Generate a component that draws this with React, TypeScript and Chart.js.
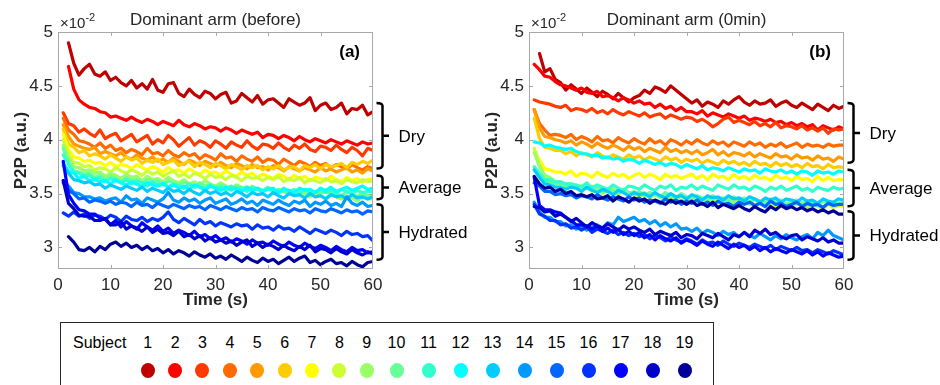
import React, { useEffect, useRef } from 'react';
import { Chart, registerables } from 'chart.js';

Chart.register(...registerables);

const FONT = '"Liberation Sans", Arial, Helvetica, sans-serif';
const TEXT_COLOR = '#262626';
const AXIS_COLOR = '#a8a8a8';

const TIME = [
  1, 2, 3, 4, 5, 6, 7, 8, 9, 10, 11, 12, 13, 14, 15, 16, 17, 18, 19, 20,
  21, 22, 23, 24, 25, 26, 27, 28, 29, 30, 31, 32, 33, 34, 35, 36, 37, 38, 39, 40,
  41, 42, 43, 44, 45, 46, 47, 48, 49, 50, 51, 52, 53, 54, 55, 56, 57, 58, 59, 60,
];

const SUBJECTS = ['1', '2', '3', '4', '5', '6', '7', '8', '9', '10', '11', '12', '13', '14', '15', '16', '17', '18', '19'];
const SUBJECT_COLORS = [
  '#c00000', '#ff0000', '#ff3a00', '#ff6b00', '#ff9b00', '#ffcc00', '#ffff00', '#ccff33', '#99ff66', '#66ff99',
  '#33ffcc', '#00ffff', '#00ccff', '#0099ff', '#0066ff', '#0033ff', '#0000ff', '#0000cc', '#000099',
];

const GROUP_LABELS = ['Dry', 'Average', 'Hydrated'];
const A_GROUP_TOP = [4.34, 3.668, 3.401];
const A_GROUP_BOTTOM = [3.732, 3.447, 2.885];
const B_GROUP_TOP = [4.34, 3.722, 3.336];
const B_GROUP_BOTTOM = [3.787, 3.382, 2.885];

// ---------- Panel (a): Dominant arm (before), values in units of 1e-2 ----------
const A_S1 = [
  null, 4.90, 4.71, 4.60, 4.66, 4.70, 4.61, 4.59, 4.63, 4.55,
  4.58, 4.53, 4.50, 4.55, 4.48, 4.52, 4.47, 4.56, 4.46, 4.44,
  4.52, 4.53, 4.43, 4.40, 4.47, 4.42, 4.39, 4.45, 4.43, 4.38,
  4.42, 4.44, 4.34, 4.36, 4.43, 4.39, 4.35, 4.41, 4.33, 4.37,
  4.38, 4.34, 4.30, 4.38, 4.35, 4.32, 4.34, 4.39, 4.27, 4.32,
  4.34, 4.28, 4.30, 4.34, 4.24, 4.29, 4.28, 4.32, 4.23, 4.26,
];
const A_S2 = [
  null, 4.68, 4.47, 4.37, 4.33, 4.30, 4.29, 4.26, 4.25, 4.21,
  4.22, 4.20, 4.18, 4.21, 4.18, 4.16, 4.19, 4.17, 4.14, 4.17,
  4.15, 4.13, 4.18, 4.14, 4.12, 4.15, 4.13, 4.10, 4.12, 4.11,
  4.08, 4.11, 4.09, 4.06, 4.09, 4.07, 4.05, 4.07, 4.02, 4.05,
  4.04, 4.01, 4.04, 4.02, 3.99, 4.03, 4.00, 3.98, 4.01, 3.99,
  3.97, 4.00, 3.98, 3.96, 3.99, 3.97, 3.95, 3.98, 3.96, 3.97,
];
const A_S3 = [
  4.25, 4.15, 4.13, 4.07, 4.10, 4.06, 4.03, 4.09, 4.01, 4.04,
  4.06, 3.99, 4.02, 4.05, 3.98, 4.01, 4.04, 3.96, 4.00, 3.97,
  4.04, 4.00, 3.94, 3.98, 4.02, 3.95, 3.99, 3.97, 3.93, 3.99,
  3.96, 3.92, 3.98, 3.95, 3.93, 3.99, 3.94, 3.91, 3.96, 3.95,
  3.92, 3.97, 3.93, 3.90, 3.95, 3.92, 3.96, 3.91, 3.89, 3.94,
  3.93, 3.90, 3.95, 3.91, 3.88, 3.93, 3.90, 3.85, 3.92, 3.90,
];
const A_S4 = [
  4.20, 4.09, 4.05, 3.99, 3.98, 3.96, 3.93, 3.97, 3.92, 3.95,
  3.90, 3.92, 3.88, 3.91, 3.89, 3.86, 3.92, 3.87, 3.88, 3.85,
  3.90, 3.86, 3.84, 3.88, 3.85, 3.87, 3.82, 3.86, 3.84, 3.81,
  3.87, 3.83, 3.84, 3.80, 3.85, 3.82, 3.80, 3.84, 3.79, 3.82,
  3.81, 3.77, 3.82, 3.79, 3.76, 3.80, 3.78, 3.75, 3.79, 3.76,
  3.78, 3.74, 3.77, 3.75, 3.73, 3.77, 3.74, 3.72, 3.75, 3.73,
];
const A_S5 = [
  4.14, 4.03, 3.96, 3.94, 3.92, 3.91, 3.93, 3.87, 3.89, 3.87,
  3.85, 3.88, 3.84, 3.82, 3.86, 3.83, 3.81, 3.84, 3.80, 3.82,
  3.79, 3.83, 3.80, 3.77, 3.81, 3.79, 3.76, 3.80, 3.78, 3.75,
  3.79, 3.76, 3.74, 3.78, 3.76, 3.73, 3.77, 3.74, 3.75, 3.72,
  3.76, 3.74, 3.71, 3.75, 3.73, 3.71, 3.74, 3.72, 3.70, 3.74,
  3.71, 3.73, 3.70, 3.72, 3.74, 3.70, 3.72, 3.69, 3.73, 3.71,
];
const A_S6 = [
  4.10, 3.96, 3.93, 3.88, 3.90, 3.85, 3.87, 3.85, 3.82, 3.86,
  3.83, 3.80, 3.84, 3.81, 3.83, 3.78, 3.81, 3.79, 3.82, 3.77,
  3.79, 3.81, 3.76, 3.78, 3.80, 3.75, 3.79, 3.77, 3.74, 3.78,
  3.76, 3.73, 3.77, 3.75, 3.72, 3.76, 3.74, 3.76, 3.72, 3.75,
  3.73, 3.76, 3.72, 3.74, 3.75, 3.71, 3.76, 3.74, 3.77, 3.73,
  3.77, 3.75, 3.76, 3.78, 3.74, 3.79, 3.77, 3.80, 3.78, 3.81,
];
const A_S7 = [
  4.05, 3.91, 3.84, 3.83, 3.80, 3.81, 3.78, 3.79, 3.76, 3.79,
  3.75, 3.77, 3.76, 3.73, 3.77, 3.74, 3.72, 3.75, 3.73, 3.70,
  3.74, 3.71, 3.72, 3.69, 3.73, 3.70, 3.68, 3.72, 3.69, 3.70,
  3.67, 3.71, 3.68, 3.66, 3.70, 3.67, 3.69, 3.65, 3.68, 3.66,
  3.64, 3.68, 3.66, 3.63, 3.67, 3.64, 3.66, 3.62, 3.65, 3.64,
  3.62, 3.66, 3.63, 3.61, 3.65, 3.62, 3.64, 3.61, 3.63, 3.64,
];
const A_S8 = [
  4.00, 3.86, 3.79, 3.78, 3.75, 3.76, 3.72, 3.74, 3.73, 3.70,
  3.74, 3.71, 3.69, 3.72, 3.70, 3.67, 3.71, 3.68, 3.70, 3.66,
  3.69, 3.71, 3.66, 3.68, 3.65, 3.69, 3.67, 3.64, 3.68, 3.65,
  3.66, 3.63, 3.67, 3.65, 3.62, 3.66, 3.64, 3.65, 3.62, 3.65,
  3.63, 3.66, 3.61, 3.64, 3.62, 3.65, 3.60, 3.63, 3.62, 3.60,
  3.64, 3.61, 3.62, 3.59, 3.63, 3.61, 3.60, 3.63, 3.61, 3.62,
];
const A_S9 = [
  3.95, 3.83, 3.75, 3.74, 3.71, 3.72, 3.69, 3.70, 3.66, 3.69,
  3.67, 3.64, 3.68, 3.65, 3.66, 3.62, 3.66, 3.63, 3.64, 3.61,
  3.65, 3.62, 3.60, 3.63, 3.59, 3.61, 3.58, 3.62, 3.59, 3.57,
  3.60, 3.57, 3.55, 3.58, 3.56, 3.53, 3.57, 3.54, 3.52, 3.55,
  3.53, 3.50, 3.54, 3.51, 3.49, 3.52, 3.50, 3.47, 3.51, 3.48,
  3.46, 3.50, 3.47, 3.45, 3.48, 3.46, 3.43, 3.47, 3.45, 3.45,
];
const A_S10 = [
  3.92, 3.79, 3.71, 3.70, 3.68, 3.69, 3.65, 3.67, 3.63, 3.66,
  3.64, 3.61, 3.65, 3.62, 3.63, 3.59, 3.63, 3.61, 3.62, 3.58,
  3.62, 3.60, 3.57, 3.61, 3.58, 3.56, 3.60, 3.57, 3.58, 3.55,
  3.58, 3.56, 3.53, 3.57, 3.55, 3.56, 3.52, 3.55, 3.53, 3.56,
  3.51, 3.54, 3.52, 3.50, 3.54, 3.51, 3.53, 3.49, 3.52, 3.50,
  3.53, 3.49, 3.51, 3.48, 3.52, 3.50, 3.47, 3.51, 3.48, 3.49,
];
const A_S11 = [
  3.86, 3.77, 3.70, 3.69, 3.66, 3.67, 3.63, 3.65, 3.61, 3.64,
  3.62, 3.60, 3.63, 3.59, 3.62, 3.60, 3.57, 3.61, 3.58, 3.60,
  3.56, 3.59, 3.57, 3.55, 3.59, 3.56, 3.57, 3.54, 3.58, 3.55,
  3.56, 3.53, 3.57, 3.54, 3.55, 3.52, 3.56, 3.54, 3.52, 3.55,
  3.53, 3.51, 3.55, 3.52, 3.53, 3.50, 3.54, 3.52, 3.51, 3.54,
  3.51, 3.53, 3.50, 3.54, 3.52, 3.50, 3.53, 3.51, 3.52, 3.52,
];
const A_S12 = [
  3.78, 3.71, 3.69, 3.64, 3.66, 3.62, 3.63, 3.61, 3.62, 3.59,
  3.63, 3.60, 3.58, 3.61, 3.59, 3.56, 3.60, 3.58, 3.57, 3.59,
  3.56, 3.58, 3.55, 3.57, 3.54, 3.58, 3.56, 3.53, 3.57, 3.55,
  3.53, 3.56, 3.54, 3.55, 3.52, 3.56, 3.53, 3.55, 3.52, 3.54,
  3.55, 3.51, 3.54, 3.53, 3.51, 3.55, 3.53, 3.54, 3.51, 3.55,
  3.53, 3.56, 3.52, 3.54, 3.56, 3.53, 3.55, 3.57, 3.54, 3.55,
];
const A_S13 = [
  3.76, 3.69, 3.63, 3.62, 3.60, 3.61, 3.58, 3.59, 3.55, 3.58,
  3.56, 3.54, 3.57, 3.55, 3.53, 3.56, 3.52, 3.55, 3.53, 3.51,
  3.55, 3.52, 3.53, 3.50, 3.54, 3.51, 3.49, 3.53, 3.50, 3.52,
  3.49, 3.51, 3.48, 3.52, 3.50, 3.47, 3.51, 3.49, 3.50, 3.47,
  3.51, 3.48, 3.46, 3.50, 3.48, 3.49, 3.46, 3.50, 3.47, 3.48,
  3.45, 3.49, 3.47, 3.48, 3.45, 3.49, 3.46, 3.47, 3.45, 3.47,
];
const A_S14 = [
  3.62, 3.57, 3.51, 3.50, 3.47, 3.47, 3.45, 3.46, 3.43, 3.45,
  3.46, 3.42, 3.48, 3.44, 3.45, 3.41, 3.46, 3.44, 3.42, 3.45,
  3.51, 3.44, 3.42, 3.46, 3.43, 3.45, 3.41, 3.44, 3.46, 3.41,
  3.43, 3.45, 3.40, 3.42, 3.45, 3.41, 3.43, 3.39, 3.44, 3.42,
  3.40, 3.44, 3.41, 3.39, 3.43, 3.41, 3.44, 3.38, 3.42, 3.40,
  3.43, 3.39, 3.41, 3.38, 3.47, 3.41, 3.39, 3.42, 3.38, 3.39,
];
const A_S15 = [
  3.60, 3.53, 3.50, 3.45, 3.46, 3.42, 3.44, 3.43, 3.41, 3.43,
  3.40, 3.42, 3.41, 3.38, 3.42, 3.39, 3.40, 3.37, 3.41, 3.39,
  3.37, 3.40, 3.38, 3.36, 3.39, 3.37, 3.38, 3.35, 3.39, 3.37,
  3.35, 3.38, 3.36, 3.34, 3.37, 3.35, 3.36, 3.33, 3.37, 3.35,
  3.34, 3.37, 3.35, 3.33, 3.36, 3.34, 3.35, 3.32, 3.36, 3.34,
  3.33, 3.36, 3.34, 3.32, 3.35, 3.33, 3.34, 3.31, 3.34, 3.33,
];
const A_S16 = [
  3.32, 3.29, 3.33, 3.29, 3.31, 3.27, 3.30, 3.29, 3.26, 3.30,
  3.28, 3.24, 3.29, 3.26, 3.25, 3.28, 3.24, 3.27, 3.25, 3.28,
  3.33, 3.26, 3.23, 3.27, 3.24, 3.21, 3.26, 3.22, 3.24, 3.20,
  3.23, 3.21, 3.19, 3.22, 3.20, 3.21, 3.17, 3.21, 3.18, 3.19,
  3.16, 3.20, 3.17, 3.18, 3.15, 3.19, 3.16, 3.13, 3.17, 3.15,
  3.13, 3.16, 3.14, 3.11, 3.15, 3.12, 3.13, 3.10, 3.11, 3.06,
];
const A_S17 = [
  3.80, 3.49, 3.41, 3.35, 3.34, 3.31, 3.31, 3.27, 3.26, 3.21,
  3.25, 3.19, 3.24, 3.20, 3.17, 3.23, 3.19, 3.16, 3.20, 3.15,
  3.18, 3.13, 3.16, 3.14, 3.11, 3.15, 3.10, 3.12, 3.08, 3.11,
  3.07, 3.09, 3.05, 3.08, 3.06, 3.03, 3.07, 3.04, 3.05, 3.02,
  3.06, 3.03, 3.01, 3.05, 3.02, 3.00, 3.04, 3.01, 2.99, 3.02,
  3.00, 2.97, 3.01, 2.98, 2.96, 3.00, 2.97, 2.98, 2.95, 2.96,
];
const A_S18 = [
  3.62, 3.41, 3.36, 3.30, 3.29, 3.29, 3.25, 3.25, 3.27, 3.21,
  3.21, 3.24, 3.17, 3.20, 3.18, 3.15, 3.19, 3.14, 3.17, 3.13,
  3.14, 3.11, 3.15, 3.10, 3.12, 3.08, 3.11, 3.06, 3.09, 3.05,
  3.07, 3.04, 3.06, 3.02, 3.05, 3.07, 3.01, 3.04, 3.00, 3.03,
  3.01, 2.98, 3.02, 2.99, 2.97, 3.01, 2.98, 3.02, 2.96, 2.99,
  2.98, 2.95, 2.99, 2.96, 2.94, 2.98, 2.95, 2.93, 2.96, 2.94,
];
const A_S19 = [
  null, 3.10, 3.05, 2.98, 2.97, 3.00, 2.96, 3.01, 2.98, 3.03,
  3.05, 3.01, 3.04, 3.00, 3.02, 2.98, 3.01, 2.97, 2.99, 2.95,
  2.98, 2.94, 2.97, 2.95, 2.92, 2.96, 2.93, 2.91, 2.94, 2.90,
  2.92, 2.89, 2.93, 2.90, 2.87, 2.91, 2.88, 2.86, 2.90, 2.87,
  2.89, 2.85, 2.88, 2.91, 2.87, 2.90, 2.92, 2.86, 2.88, 2.84,
  2.87, 2.89, 2.85, 2.86, 2.83, 2.87, 2.84, 2.82, 2.86, 2.87,
];

// ---------- Panel (b): Dominant arm (0min) ----------
const B_S1 = [
  null, 4.80, 4.63, 4.66, 4.56, 4.53, 4.46, 4.51, 4.47, 4.43,
  4.48, 4.44, 4.40, 4.45, 4.42, 4.38, 4.43, 4.39, 4.35, 4.39,
  4.41, 4.46, 4.43, 4.49, 4.47, 4.44, 4.50, 4.46, 4.42, 4.38,
  4.34, 4.37, 4.31, 4.35, 4.33, 4.30, 4.36, 4.33, 4.37, 4.40,
  4.35, 4.32, 4.36, 4.33, 4.34, 4.37, 4.31, 4.34, 4.36, 4.32,
  4.30, 4.34, 4.31, 4.28, 4.33, 4.30, 4.27, 4.32, 4.29, 4.31,
];
const B_S2 = [
  4.70, 4.65, 4.59, 4.58, 4.54, 4.51, 4.50, 4.48, 4.46, 4.48,
  4.44, 4.43, 4.45, 4.40, 4.41, 4.39, 4.36, 4.39, 4.37, 4.34,
  4.36, 4.33, 4.34, 4.30, 4.33, 4.29, 4.31, 4.27, 4.30, 4.26,
  4.26, 4.24, 4.27, 4.22, 4.25, 4.23, 4.21, 4.24, 4.22, 4.20,
  4.22, 4.18, 4.20, 4.19, 4.17, 4.19, 4.16, 4.17, 4.14, 4.16,
  4.13, 4.15, 4.12, 4.14, 4.09, 4.13, 4.11, 4.09, 4.12, 4.10,
];
const B_S3 = [
  4.37, 4.35, 4.34, 4.33, 4.31, 4.30, 4.32, 4.27, 4.29, 4.28,
  4.26, 4.29, 4.25, 4.27, 4.24, 4.28, 4.25, 4.23, 4.26, 4.24,
  4.22, 4.25, 4.21, 4.23, 4.24, 4.20, 4.23, 4.21, 4.19, 4.21,
  4.20, 4.17, 4.19, 4.16, 4.12, 4.15, 4.19, 4.21, 4.16, 4.18,
  4.16, 4.14, 4.17, 4.13, 4.15, 4.12, 4.16, 4.11, 4.13, 4.12,
  4.10, 4.13, 4.09, 4.11, 4.08, 4.11, 4.06, 4.10, 4.09, 4.10,
];
const B_S4 = [
  4.28, 4.15, 4.09, 4.04, 4.05, 4.04, 4.02, 4.05, 4.00, 4.03,
  4.01, 3.98, 4.03, 3.99, 4.00, 3.97, 4.02, 3.99, 3.97, 4.01,
  3.98, 3.96, 4.01, 3.97, 3.99, 3.95, 4.00, 3.98, 3.95, 3.99,
  3.96, 4.00, 3.97, 3.95, 3.99, 3.96, 3.98, 3.94, 3.98, 3.96,
  3.94, 3.98, 3.95, 3.97, 3.93, 3.96, 3.94, 3.97, 3.93, 3.95,
  3.97, 3.93, 3.96, 3.94, 3.95, 3.93, 3.96, 3.94, 3.95, 3.95,
];
const B_S5 = [
  4.28, 4.11, 4.03, 4.02, 4.00, 3.99, 3.97, 3.99, 3.95, 3.98,
  3.96, 3.93, 3.97, 3.94, 3.92, 3.95, 3.93, 3.90, 3.94, 3.91,
  3.93, 3.89, 3.92, 3.90, 3.88, 3.93, 3.89, 3.91, 3.88, 3.90,
  3.87, 3.90, 3.86, 3.88, 3.91, 3.86, 3.89, 3.85, 3.88, 3.87,
  3.85, 3.88, 3.84, 3.87, 3.85, 3.83, 3.87, 3.84, 3.85, 3.82,
  3.86, 3.83, 3.84, 3.81, 3.85, 3.82, 3.83, 3.80, 3.84, 3.82,
];
const B_S6 = [
  4.20, 4.01, 3.93, 3.92, 3.90, 3.90, 3.87, 3.89, 3.85, 3.88,
  3.86, 3.84, 3.88, 3.85, 3.83, 3.86, 3.84, 3.82, 3.86, 3.83,
  3.85, 3.81, 3.84, 3.82, 3.80, 3.84, 3.81, 3.83, 3.79, 3.82,
  3.80, 3.82, 3.78, 3.81, 3.79, 3.77, 3.81, 3.78, 3.80, 3.77,
  3.79, 3.76, 3.80, 3.77, 3.78, 3.75, 3.79, 3.76, 3.78, 3.75,
  3.77, 3.74, 3.78, 3.75, 3.76, 3.73, 3.77, 3.74, 3.75, 3.74,
];
const B_S7 = [
  3.90, 3.81, 3.73, 3.72, 3.70, 3.70, 3.68, 3.71, 3.66, 3.69,
  3.68, 3.65, 3.70, 3.67, 3.65, 3.69, 3.66, 3.68, 3.64, 3.67,
  3.69, 3.65, 3.68, 3.66, 3.63, 3.68, 3.65, 3.67, 3.64, 3.66,
  3.68, 3.64, 3.67, 3.63, 3.68, 3.65, 3.66, 3.63, 3.68, 3.64,
  3.66, 3.63, 3.67, 3.64, 3.65, 3.62, 3.67, 3.64, 3.65, 3.62,
  3.66, 3.63, 3.64, 3.61, 3.66, 3.62, 3.65, 3.62, 3.63, 3.63,
];
const B_S8 = [
  3.92, 3.77, 3.67, 3.64, 3.61, 3.60, 3.58, 3.57, 3.58, 3.53,
  3.56, 3.52, 3.55, 3.50, 3.53, 3.51, 3.49, 3.53, 3.48, 3.50,
  3.47, 3.50, 3.46, 3.49, 3.47, 3.44, 3.48, 3.46, 3.43, 3.46,
  3.44, 3.47, 3.42, 3.45, 3.43, 3.41, 3.45, 3.42, 3.44, 3.40,
  3.43, 3.41, 3.39, 3.43, 3.40, 3.42, 3.38, 3.41, 3.39, 3.37,
  3.41, 3.39, 3.36, 3.40, 3.38, 3.36, 3.40, 3.37, 3.39, 3.38,
];
const B_S9 = [
  3.88, 3.75, 3.67, 3.65, 3.61, 3.61, 3.59, 3.59, 3.57, 3.57,
  3.55, 3.57, 3.54, 3.55, 3.52, 3.55, 3.51, 3.53, 3.50, 3.52,
  3.49, 3.51, 3.48, 3.50, 3.46, 3.49, 3.47, 3.44, 3.48, 3.45,
  3.47, 3.43, 3.46, 3.44, 3.42, 3.46, 3.43, 3.45, 3.41, 3.44,
  3.42, 3.40, 3.45, 3.41, 3.43, 3.40, 3.44, 3.41, 3.39, 3.43,
  3.40, 3.42, 3.38, 3.41, 3.40, 3.37, 3.42, 3.39, 3.41, 3.42,
];
const B_S10 = [
  3.72, 3.67, 3.61, 3.61, 3.59, 3.59, 3.57, 3.58, 3.55, 3.57,
  3.55, 3.53, 3.56, 3.51, 3.54, 3.52, 3.50, 3.54, 3.51, 3.49,
  3.52, 3.48, 3.51, 3.49, 3.47, 3.51, 3.48, 3.46, 3.50, 3.47,
  3.45, 3.48, 3.46, 3.44, 3.48, 3.45, 3.46, 3.43, 3.47, 3.44,
  3.46, 3.42, 3.45, 3.43, 3.41, 3.45, 3.42, 3.44, 3.40, 3.43,
  3.44, 3.40, 3.43, 3.41, 3.39, 3.43, 3.41, 3.42, 3.40, 3.43,
];
const B_S11 = [
  3.75, 3.69, 3.63, 3.63, 3.61, 3.61, 3.59, 3.59, 3.58, 3.56,
  3.60, 3.55, 3.58, 3.56, 3.54, 3.58, 3.55, 3.53, 3.57, 3.56,
  3.54, 3.58, 3.55, 3.53, 3.57, 3.55, 3.58, 3.53, 3.56, 3.55,
  3.58, 3.54, 3.57, 3.55, 3.53, 3.58, 3.56, 3.54, 3.58, 3.55,
  3.56, 3.53, 3.57, 3.55, 3.52, 3.56, 3.54, 3.57, 3.53, 3.55,
  3.57, 3.53, 3.55, 3.52, 3.56, 3.54, 3.53, 3.56, 3.54, 3.55,
];
const B_S12 = [
  3.98, 3.97, 3.94, 3.95, 3.93, 3.92, 3.91, 3.92, 3.89, 3.87,
  3.87, 3.85, 3.86, 3.83, 3.84, 3.82, 3.83, 3.80, 3.82, 3.81,
  3.78, 3.81, 3.79, 3.77, 3.79, 3.76, 3.78, 3.77, 3.74, 3.77,
  3.75, 3.73, 3.76, 3.72, 3.74, 3.73, 3.71, 3.74, 3.72, 3.70,
  3.73, 3.71, 3.72, 3.69, 3.73, 3.71, 3.70, 3.72, 3.69, 3.71,
  3.68, 3.71, 3.70, 3.67, 3.71, 3.69, 3.70, 3.68, 3.71, 3.70,
];
const B_S13 = [
  3.72, 3.65, 3.59, 3.58, 3.56, 3.56, 3.54, 3.56, 3.55, 3.52,
  3.56, 3.53, 3.51, 3.54, 3.52, 3.49, 3.53, 3.51, 3.48, 3.51,
  3.49, 3.50, 3.47, 3.51, 3.48, 3.46, 3.50, 3.47, 3.48, 3.45,
  3.49, 3.47, 3.44, 3.48, 3.46, 3.47, 3.44, 3.48, 3.45, 3.46,
  3.43, 3.47, 3.45, 3.42, 3.46, 3.44, 3.46, 3.42, 3.45, 3.44,
  3.42, 3.46, 3.43, 3.44, 3.41, 3.45, 3.43, 3.42, 3.45, 3.44,
];
const B_S14 = [
  3.42, 3.33, 3.28, 3.28, 3.24, 3.24, 3.20, 3.21, 3.17, 3.20,
  3.16, 3.19, 3.21, 3.18, 3.23, 3.21, 3.28, 3.24, 3.26, 3.28,
  3.24, 3.26, 3.22, 3.25, 3.20, 3.23, 3.19, 3.22, 3.17, 3.18,
  3.15, 3.18, 3.13, 3.16, 3.14, 3.11, 3.15, 3.12, 3.14, 3.10,
  3.14, 3.11, 3.09, 3.13, 3.10, 3.07, 3.11, 3.08, 3.12, 3.09,
  3.07, 3.10, 3.12, 3.08, 3.14, 3.11, 3.16, 3.11, 3.09, 3.07,
];
const B_S15 = [
  3.60, 3.57, 3.52, 3.52, 3.49, 3.50, 3.48, 3.49, 3.46, 3.48,
  3.47, 3.45, 3.49, 3.46, 3.44, 3.47, 3.45, 3.43, 3.47, 3.44,
  3.46, 3.42, 3.44, 3.43, 3.41, 3.45, 3.42, 3.44, 3.40, 3.43,
  3.41, 3.44, 3.40, 3.42, 3.39, 3.43, 3.40, 3.41, 3.38, 3.42,
  3.40, 3.42, 3.39, 3.41, 3.38, 3.43, 3.40, 3.41, 3.38, 3.40,
  3.42, 3.38, 3.41, 3.39, 3.40, 3.37, 3.41, 3.39, 3.40, 3.40,
];
const B_S16 = [
  3.40, 3.31, 3.29, 3.25, 3.25, 3.21, 3.22, 3.18, 3.19, 3.16,
  3.19, 3.14, 3.17, 3.15, 3.13, 3.16, 3.12, 3.14, 3.11, 3.13,
  3.10, 3.12, 3.08, 3.11, 3.09, 3.06, 3.10, 3.07, 3.05, 3.08,
  3.06, 3.03, 3.07, 3.04, 3.05, 3.02, 3.06, 3.03, 3.01, 3.04,
  3.02, 3.00, 3.03, 3.01, 2.99, 3.02, 2.98, 3.01, 2.99, 2.97,
  3.00, 2.97, 2.98, 2.95, 2.98, 2.96, 2.94, 2.97, 2.95, 2.93,
];
const B_S17 = [
  3.65, 3.39, 3.35, 3.35, 3.33, 3.32, 3.28, 3.25, 3.21, 3.21,
  3.20, 3.17, 3.20, 3.15, 3.18, 3.14, 3.17, 3.12, 3.15, 3.11,
  3.14, 3.09, 3.12, 3.07, 3.11, 3.08, 3.06, 3.09, 3.04, 3.07,
  3.05, 3.02, 3.06, 3.03, 3.01, 3.05, 3.02, 2.99, 3.03, 3.00,
  3.02, 2.98, 3.01, 2.97, 3.00, 2.96, 2.99, 2.97, 2.95, 2.98,
  2.96, 2.94, 2.97, 2.93, 2.96, 2.92, 2.95, 2.93, 2.91, 2.92,
];
const B_S18 = [
  3.38, 3.37, 3.33, 3.34, 3.29, 3.31, 3.28, 3.24, 3.27, 3.23,
  3.19, 3.23, 3.20, 3.18, 3.22, 3.19, 3.16, 3.20, 3.17, 3.19,
  3.16, 3.14, 3.17, 3.12, 3.15, 3.13, 3.11, 3.14, 3.09, 3.12,
  3.11, 3.08, 3.13, 3.11, 3.09, 3.13, 3.10, 3.07, 3.12, 3.10,
  3.14, 3.10, 3.16, 3.13, 3.17, 3.12, 3.14, 3.10, 3.08, 3.11,
  3.12, 3.07, 3.10, 3.08, 3.06, 3.09, 3.05, 3.07, 3.04, 3.04,
];
const B_S19 = [
  3.66, 3.59, 3.55, 3.56, 3.52, 3.54, 3.50, 3.52, 3.48, 3.49,
  3.47, 3.49, 3.45, 3.46, 3.48, 3.43, 3.47, 3.45, 3.42, 3.46,
  3.43, 3.45, 3.41, 3.44, 3.42, 3.40, 3.44, 3.41, 3.43, 3.40,
  3.43, 3.39, 3.41, 3.38, 3.42, 3.37, 3.40, 3.38, 3.36, 3.39,
  3.36, 3.34, 3.38, 3.35, 3.33, 3.38, 3.35, 3.39, 3.36, 3.38,
  3.35, 3.37, 3.34, 3.36, 3.33, 3.35, 3.32, 3.34, 3.31, 3.31,
];

const A_SERIES = [A_S1, A_S2, A_S3, A_S4, A_S5, A_S6, A_S7, A_S8, A_S9, A_S10, A_S11, A_S12, A_S13, A_S14, A_S15, A_S16, A_S17, A_S18, A_S19];
const B_SERIES = [B_S1, B_S2, B_S3, B_S4, B_S5, B_S6, B_S7, B_S8, B_S9, B_S10, B_S11, B_S12, B_S13, B_S14, B_S15, B_S16, B_S17, B_S18, B_S19];

const decorPlugin = {
  id: 'decor',
  afterDraw(chart: any, _args: any, opts: any) {
    const { ctx, chartArea: a, scales } = chart;
    const xs = scales.x;
    const ys = scales.y;
    ctx.save();
    ctx.strokeStyle = AXIS_COLOR;
    ctx.lineWidth = 1;
    ctx.strokeRect(Math.round(a.left) + 0.5, Math.round(a.top) + 0.5, Math.round(a.right - a.left) - 1, Math.round(a.bottom - a.top) - 1);
    ctx.beginPath();
    xs.ticks.forEach((t: any) => {
      if (t.value <= xs.min || t.value >= xs.max) return;
      const px = Math.round(xs.getPixelForValue(t.value)) + 0.5;
      ctx.moveTo(px, a.bottom); ctx.lineTo(px, a.bottom - 4);
      ctx.moveTo(px, a.top); ctx.lineTo(px, a.top + 4);
    });
    ys.ticks.forEach((t: any) => {
      if (t.value <= ys.min || t.value >= ys.max) return;
      const py = Math.round(ys.getPixelForValue(t.value)) + 0.5;
      ctx.moveTo(a.left, py); ctx.lineTo(a.left + 4, py);
      ctx.moveTo(a.right, py); ctx.lineTo(a.right - 4, py);
    });
    ctx.stroke();

    ctx.fillStyle = TEXT_COLOR;
    ctx.font = `17px ${FONT}`;
    ctx.textAlign = 'center';
    ctx.textBaseline = 'alphabetic';
    ctx.fillText(opts.title, (a.left + a.right) / 2, 25);
    ctx.textAlign = 'left';
    ctx.font = `15px ${FONT}`;
    const base = '\u00d710';
    ctx.fillText(base, a.left + 2, 28);
    const w = ctx.measureText(base).width;
    ctx.font = `11px ${FONT}`;
    ctx.fillText('-2', a.left + 2 + w, 21);
    ctx.font = `bold 17px ${FONT}`;
    ctx.textAlign = 'right';
    ctx.fillStyle = '#000';
    ctx.fillText(opts.letter, a.right - 13, 57);
    ctx.fillStyle = TEXT_COLOR;
    ctx.textAlign = 'center';
    ctx.fillText('Time (s)', (a.left + a.right) / 2, 305);
    ctx.save();
    ctx.translate(a.left - 32, (a.top + a.bottom) / 2);
    ctx.rotate(-Math.PI / 2);
    ctx.fillText('P2P (a.u.)', 0, 0);
    ctx.restore();
    ctx.strokeStyle = '#000';
    ctx.lineWidth = 2.5;
    ctx.lineJoin = 'round';
    const x0 = a.right + 9.5;
    opts.labels.forEach((label: string, i: number) => {
      const yt = ys.getPixelForValue(opts.top[i]);
      const yb = ys.getPixelForValue(opts.bottom[i]);
      const ym = (yt + yb) / 2;
      ctx.beginPath();
      ctx.moveTo(x0 - 6, yt);
      ctx.quadraticCurveTo(x0, yt, x0, yt + 3);
      ctx.lineTo(x0, yb - 3);
      ctx.quadraticCurveTo(x0, yb, x0 - 6, yb);
      ctx.moveTo(x0, ym);
      ctx.lineTo(x0 + 6.5, ym);
      ctx.stroke();
      ctx.fillStyle = '#000';
      ctx.font = `17px ${FONT}`;
      ctx.textAlign = 'left';
      ctx.textBaseline = 'middle';
      ctx.fillText(label, a.right + 25.5, ym + 1);
    });
    ctx.restore();
  },
};

function makeConfig(series: (number | null)[][], title: string, letter: string, top: number[], bottom: number[], yWidth: number, rightPad: number) {
  const datasets = series.map((vals, i) => ({
    label: 'Subject ' + SUBJECTS[i],
    data: TIME.map((t, j) => ({ x: t, y: vals[j] })).filter((p) => p.y !== null),
    borderColor: SUBJECT_COLORS[i],
    backgroundColor: SUBJECT_COLORS[i],
    borderWidth: 3.2,
    pointRadius: 0,
    tension: 0,
    fill: false,
    borderJoinStyle: 'round',
    borderCapStyle: 'round',
    order: series.length - 1 - i,
  }));
  return {
    type: 'line',
    data: { datasets },
    plugins: [decorPlugin],
    options: {
      animation: false,
      responsive: false,
      events: [],
      layout: { padding: { left: 0, top: 32, right: rightPad, bottom: 0 } },
      plugins: {
        legend: { display: false },
        tooltip: { enabled: false },
        title: { display: false },
        decor: { title, letter, labels: GROUP_LABELS, top, bottom },
      },
      scales: {
        x: {
          type: 'linear',
          min: 0,
          max: 60,
          ticks: { stepSize: 10, padding: 6, maxRotation: 0, color: TEXT_COLOR, font: { family: FONT, size: 17 } },
          grid: { display: false, drawTicks: false },
          border: { display: false },
          afterFit: (s: any) => { s.height = 46; },
        },
        y: {
          type: 'linear',
          min: 2.8,
          max: 5,
          ticks: {
            stepSize: 0.5,
            includeBounds: false,
            padding: 5,
            color: TEXT_COLOR,
            font: { family: FONT, size: 17 },
            callback: (v: any) => (Number.isInteger(v) ? String(v) : Number(v).toFixed(1)),
          },
          grid: { display: false, drawTicks: false },
          border: { display: false },
          afterFit: (s: any) => { s.width = yWidth; },
        },
      },
    },
  };
}

const ITEM_W_1 = 27.4;
const ITEM_W_2 = 32;

export default function App() {
  const refA = useRef<HTMLCanvasElement | null>(null);
  const refB = useRef<HTMLCanvasElement | null>(null);

  useEffect(() => {
    const ca = new Chart(refA.current as any, makeConfig(A_SERIES, 'Dominant arm (before)', '(a)', A_GROUP_TOP, A_GROUP_BOTTOM, 58, 97) as any);
    const cb = new Chart(refB.current as any, makeConfig(B_SERIES, 'Dominant arm (0min)', '(b)', B_GROUP_TOP, B_GROUP_BOTTOM, 59, 96) as any);
    return () => { ca.destroy(); cb.destroy(); };
  }, []);

  return (
    <div style={{ position: 'absolute', left: 0, top: 0, width: 940, height: 385, overflow: 'hidden', background: '#fff', fontFamily: FONT }}>
      <div style={{ position: 'absolute', left: 0, top: 0 }}>
        <canvas ref={refA} width={470} height={315} style={{ display: 'block' }} />
      </div>
      <div style={{ position: 'absolute', left: 470, top: 0 }}>
        <canvas ref={refB} width={470} height={315} style={{ display: 'block' }} />
      </div>
      <div style={{ position: 'absolute', left: 60, top: 322, width: 652, height: 80, border: '1px solid #262626', boxSizing: 'content-box' }}>
        <div style={{ position: 'absolute', left: 12, top: 10, lineHeight: '20px', fontSize: 16, color: '#000' }}>Subject</div>
        <div style={{ position: 'absolute', left: 73, top: 0, display: 'flex' }}>
          {SUBJECTS.map((s, i) => (
            <div key={s} style={{ width: s.length > 1 ? ITEM_W_2 : ITEM_W_1, height: 60, position: 'relative' }}>
              <div style={{ position: 'absolute', left: 0, right: 0, top: 10, lineHeight: '20px', fontSize: 16, textAlign: 'center', color: '#000' }}>{s}</div>
              <div style={{ position: 'absolute', left: '50%', top: 40, width: 14, height: 15, marginLeft: -7, borderRadius: '50%', background: SUBJECT_COLORS[i] }} />
            </div>
          ))}
        </div>
      </div>
    </div>
  );
}
